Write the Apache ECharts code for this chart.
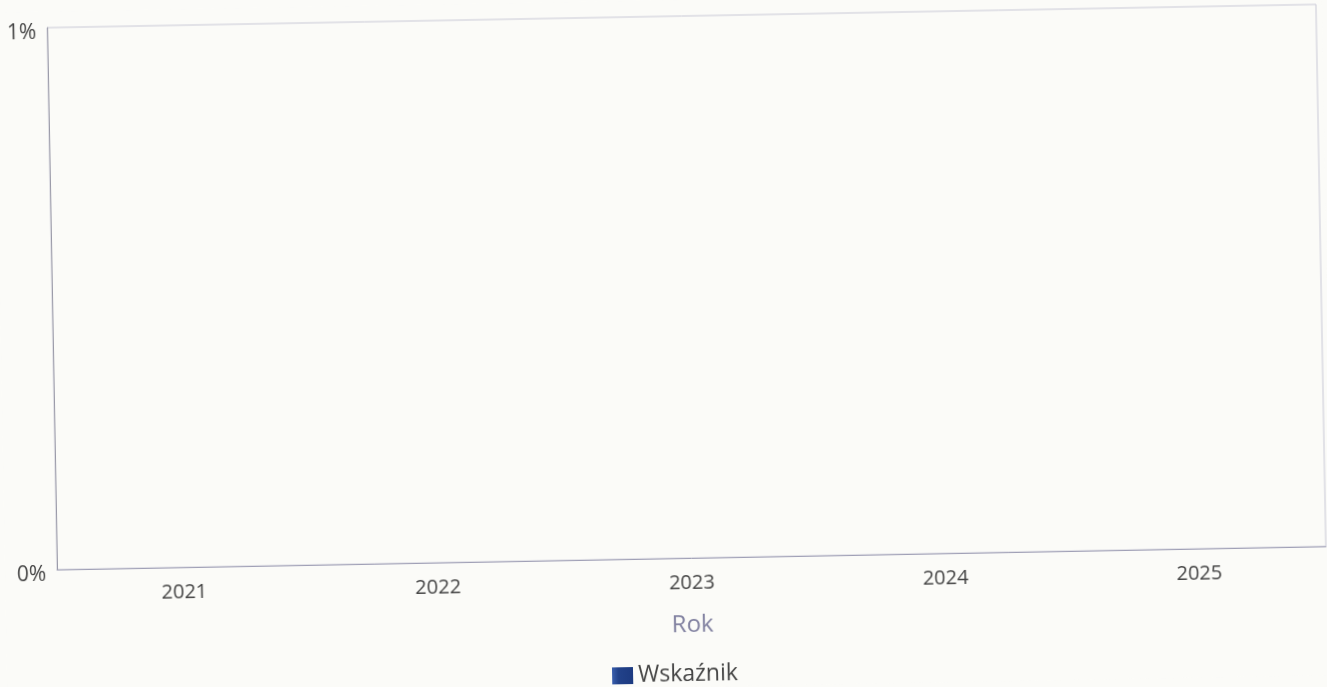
<!DOCTYPE html>
<html>
<head>
<meta charset="utf-8">
<script src="https://cdn.jsdelivr.net/npm/echarts@6/dist/echarts.min.js"></script>
<style>
  html, body { margin: 0; padding: 0; background: #fbfbf8; overflow: hidden; }
  /* the reference is a slightly tilted photo of a printout */
  #chart {
    width: 1327px; height: 687px;
    transform-origin: 686.6px 287.25px;
    transform: rotate(-1.05deg);
  }
</style>
</head>
<body>
<div id="chart"></div>
<script>
const years = ['2021', '2022', '2023', '2024', '2025']
const wskaznik = [0, 0, 0, 0, 0]
const yTicks = [0, 1]

const chart = echarts.init(document.getElementById('chart'), null, { renderer: 'canvas' })

chart.setOption({
  backgroundColor: '#fbfbf8',
  textStyle: { fontFamily: 'Open Sans' },
  grid: {
    left: 52, right: 6, top: 16, bottom: 129,
    show: true,
    borderColor: '#c9c9d6',
    borderWidth: 1,
    backgroundColor: 'transparent',
  },
  legend: {
    left: 600,
    top: 658,
    itemWidth: 21,
    itemHeight: 17,
    itemGap: 10,
    icon: 'rect',
    textStyle: { color: '#444', fontSize: 23, fontFamily: 'Open Sans' },
    data: ['Wskaźnik'],
  },
  xAxis: {
    type: 'category',
    data: years,
    name: 'Rok',
    nameLocation: 'middle',
    nameGap: 55,
    nameTextStyle: { color: '#8181a0', fontSize: 24, fontFamily: 'Open Sans' },
    axisLabel: { color: '#444', fontSize: 20, margin: 15, fontFamily: 'Open Sans' },
    axisLine: { lineStyle: { color: '#a0a0b6' } },
    axisTick: { show: false },
  },
  yAxis: {
    type: 'value',
    min: yTicks[0],
    max: yTicks[yTicks.length - 1],
    interval: 1,
    axisLabel: {
      margin: 11,
      formatter: (v) => '{a|' + v + '%}',
      rich: {
        a: { color: '#444', fontSize: 21, fontFamily: 'Open Sans', padding: [10, 0, 0, 0] },
      },
    },
    axisLine: { show: true, lineStyle: { color: '#9a9aa8' } },
    axisTick: { show: false },
    splitLine: { show: false },
  },
  series: [
    {
      name: 'Wskaźnik',
      type: 'bar',
      data: wskaznik,
      barWidth: '45%',
      itemStyle: {
        color: new echarts.graphic.LinearGradient(0, 0, 1, 0, [
          { offset: 0, color: '#3a5fae' },
          { offset: 0.3, color: '#22428a' },
          { offset: 1, color: '#1c3a80' },
        ]),
      },
    },
  ],
})
</script>
</body>
</html>
